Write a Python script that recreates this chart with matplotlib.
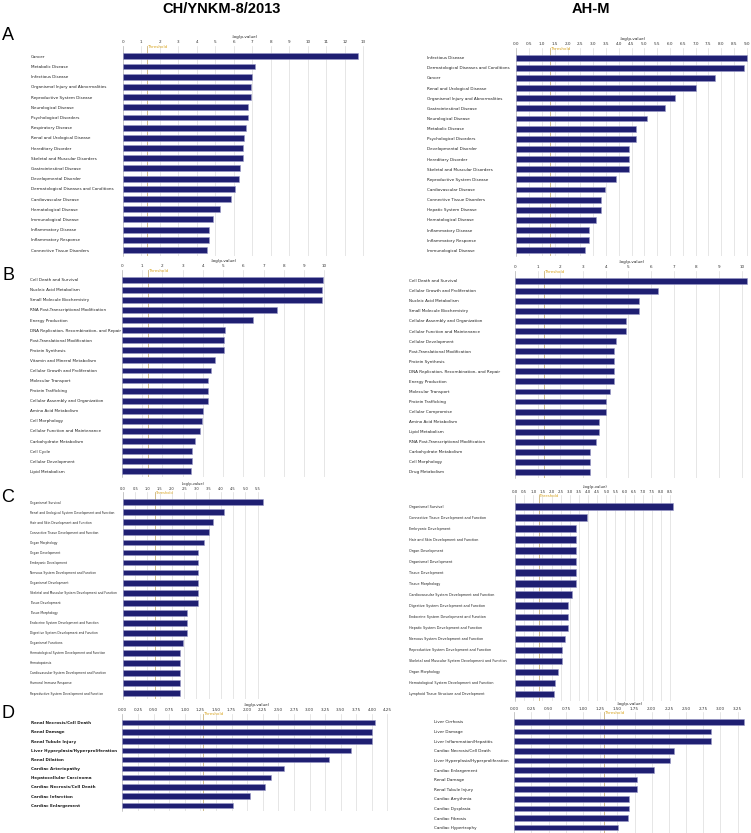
import matplotlib
matplotlib.use("Agg")
import matplotlib.pyplot as plt
import numpy as np

W, H = 751, 833

# ---------------- data ----------------
a_left_labels = ["Cancer", "Metabolic Disease", "Infectious Disease", "Organismal Injury and Abnormalities",
                 "Reproductive System Disease", "Neurological Disease", "Psychological Disorders",
                 "Respiratory Disease", "Renal and Urological Disease", "Hereditary Disorder",
                 "Skeletal and Muscular Disorders", "Gastrointestinal Disease", "Developmental Disorder",
                 "Dermatological Diseases and Conditions", "Cardiovascular Disease", "Hematological Disease",
                 "Immunological Disease", "Inflammatory Disease", "Inflammatory Response",
                 "Connective Tissue Disorders"]
a_left_values = [12.70, 7.14, 6.97, 6.92, 6.92, 6.76, 6.76, 6.68, 6.58, 6.52, 6.52, 6.34, 6.27,
                 6.07, 5.87, 5.26, 4.86, 4.65, 4.65, 4.58]

a_right_labels = ["Infectious Disease", "Dermatological Diseases and Conditions", "Cancer",
                  "Renal and Urological Disease", "Organismal Injury and Abnormalities",
                  "Gastrointestinal Disease", "Neurological Disease", "Metabolic Disease",
                  "Psychological Disorders", "Developmental Disorder", "Hereditary Disorder",
                  "Skeletal and Muscular Disorders", "Reproductive System Disease", "Cardiovascular Disease",
                  "Connective Tissue Disorders", "Hepatic System Disease", "Hematological Disease",
                  "Inflammatory Disease", "Inflammatory Response", "Immunological Disease"]
a_right_values = [9.00, 8.89, 7.75, 7.03, 6.18, 5.79, 5.09, 4.67, 4.67, 4.39, 4.39, 4.39, 3.89,
                  3.46, 3.32, 3.32, 3.11, 2.84, 2.84, 2.70]

b_left_labels = ["Cell Death and Survival", "Nucleic Acid Metabolism", "Small Molecule Biochemistry",
                 "RNA Post-Transcriptional Modification", "Energy Production",
                 "DNA Replication, Recombination, and Repair", "Post-Translational Modification",
                 "Protein Synthesis", "Vitamin and Mineral Metabolism", "Cellular Growth and Proliferation",
                 "Molecular Transport", "Protein Trafficking", "Cellular Assembly and Organization",
                 "Amino Acid Metabolism", "Cell Morphology", "Cellular Function and Maintenance",
                 "Carbohydrate Metabolism", "Cell Cycle", "Cellular Development", "Lipid Metabolism"]
b_left_values = [9.92, 9.88, 9.88, 7.68, 6.46, 5.11, 5.02, 5.02, 4.61, 4.42, 4.27, 4.27, 4.25,
                 3.99, 3.97, 3.87, 3.59, 3.48, 3.48, 3.41]

b_right_labels = ["Cell Death and Survival", "Cellular Growth and Proliferation", "Nucleic Acid Metabolism",
                  "Small Molecule Biochemistry", "Cellular Assembly and Organization",
                  "Cellular Function and Maintenance", "Cellular Development", "Post-Translational Modification",
                  "Protein Synthesis", "DNA Replication, Recombination, and Repair", "Energy Production",
                  "Molecular Transport", "Protein Trafficking", "Cellular Compromise", "Amino Acid Metabolism",
                  "Lipid Metabolism", "RNA Post-Transcriptional Modification", "Carbohydrate Metabolism",
                  "Cell Morphology", "Drug Metabolism"]
b_right_values = [10.24, 6.29, 5.49, 5.49, 4.90, 4.90, 4.47, 4.35, 4.35, 4.35, 4.35, 4.19, 4.03,
                  4.00, 3.71, 3.71, 3.56, 3.32, 3.32, 3.32]

c_left_labels = ["Organismal Survival", "Renal and Urological System Development and Function",
                 "Hair and Skin Development and Function", "Connective Tissue Development and Function",
                 "Organ Morphology", "Organ Development", "Embryonic Development",
                 "Nervous System Development and Function", "Organismal Development",
                 "Skeletal and Muscular System Development and Function", "Tissue Development",
                 "Tissue Morphology", "Endocrine System Development and Function",
                 "Digestive System Development and Function", "Organismal Functions",
                 "Hematological System Development and Function", "Hematopoiesis",
                 "Cardiovascular System Development and Function", "Humoral Immune Response",
                 "Reproductive System Development and Function"]
c_left_values = [5.71, 4.14, 3.69, 3.50, 3.32, 3.08, 3.08, 3.08, 3.08, 3.08, 3.08, 2.60, 2.60,
                 2.60, 2.45, 2.32, 2.32, 2.32, 2.32, 2.32]

c_right_labels = ["Organismal Survival", "Connective Tissue Development and Function", "Embryonic Development",
                  "Hair and Skin Development and Function", "Organ Development", "Organismal Development",
                  "Tissue Development", "Tissue Morphology", "Cardiovascular System Development and Function",
                  "Digestive System Development and Function", "Endocrine System Development and Function",
                  "Hepatic System Development and Function", "Nervous System Development and Function",
                  "Reproductive System Development and Function",
                  "Skeletal and Muscular System Development and Function", "Organ Morphology",
                  "Hematological System Development and Function", "Lymphoid Tissue Structure and Development"]
c_right_values = [8.67, 3.96, 3.34, 3.34, 3.34, 3.34, 3.34, 3.34, 3.14, 2.88, 2.88, 2.88, 2.76,
                  2.57, 2.57, 2.37, 2.19, 2.13]

d_left_labels = ["Renal Necrosis/Cell Death", "Renal Damage", "Renal Tubule Injury",
                 "Liver Hyperplasia/Hyperproliferation", "Renal Dilation", "Cardiac Arteriopathy",
                 "Hepatocellular Carcinoma", "Cardiac Necrosis/Cell Death", "Cardiac Infarction",
                 "Cardiac Enlargement"]
d_left_values = [4.05, 4.00, 4.00, 3.66, 3.32, 2.59, 2.39, 2.29, 2.05, 1.78]

d_right_labels = ["Liver Cirrhosis", "Liver Damage", "Liver Inflammation/Hepatitis",
                  "Cardiac Necrosis/Cell Death", "Liver Hyperplasia/Hyperproliferation", "Cardiac Enlargement",
                  "Renal Damage", "Renal Tubule Injury", "Cardiac Arrythmia", "Cardiac Dysplasia",
                  "Cardiac Fibrosis", "Cardiac Hypertrophy"]
d_right_values = [3.34, 2.87, 2.87, 2.32, 2.26, 2.04, 1.79, 1.79, 1.67, 1.67, 1.66, 1.51]

threshold = 1.3
col_titles = ["CH/YNKM-8/2013", "AH-M"]
panel_letters = ["A", "B", "C", "D"]

# ---------------- style ----------------
BAR = "#1f1f72"
EDGE = "#9a9ac8"
GRID = "#dcdcdc"
THR = "#c9b27a"
THR_TXT = "#d9a520"

fig = plt.figure(figsize=(W / 100, H / 100), dpi=100)


def panel(labels, values, x0, scale, xmax, first, last, tick_step, fmt, label_x,
          label_fs, bold=False, tick_fs=3.0):
    n = len(labels)
    sp = (last - first) / (n - 1)
    top = first - 1.0 * sp
    bot = last + 0.6 * sp
    right = x0 + xmax * scale
    ax = fig.add_axes([x0 / W, 1 - bot / H, (right - x0) / W, (bot - top) / H])
    y = np.arange(n)
    ax.barh(y, values, height=0.58, color=BAR, edgecolor=EDGE, linewidth=0.4, zorder=3)
    ax.set_xlim(0, xmax)
    ax.set_ylim(n - 1 + 0.6, -1.0)
    ticks = np.arange(0, xmax + 1e-9, tick_step)
    ax.set_xticks(ticks)
    ax.set_xticklabels([fmt.format(t) for t in ticks], fontsize=tick_fs, color="#333333")
    ax.xaxis.tick_top()
    ax.xaxis.set_label_position("top")
    ax.tick_params(axis="x", length=0, pad=1.2)
    ax.set_xlabel("-log(p-value)", fontsize=tick_fs, labelpad=1.5, color="#222222")
    ax.grid(axis="x", color=GRID, linewidth=0.5, zorder=0)
    ax.set_yticks(y)
    pad = (x0 - label_x) * 0.72
    ax.set_yticklabels(labels, ha="left", fontsize=label_fs, color="#222222",
                       fontweight="bold" if bold else "normal")
    ax.tick_params(axis="y", length=0, pad=pad)
    for s in ["top", "right", "bottom"]:
        ax.spines[s].set_visible(False)
    ax.spines["left"].set_color("#bbbbbb")
    ax.spines["left"].set_linewidth(0.5)
    ax.axvline(threshold, color=THR, linewidth=0.6, zorder=2)
    ax.text(threshold, -0.9, "Threshold", fontsize=tick_fs, color=THR_TXT,
            ha="left", va="center", zorder=4)
    return ax


panel(a_left_labels, a_left_values, 122.7, 18.51, 13.2, 56.3, 250.0, 1, "{:.0f}", 31, 3.0)
panel(a_right_labels, a_right_values, 516.3, 25.6, 9.1, 57.7, 250.3, 0.5, "{:.1f}", 426.7, 3.0)
panel(b_left_labels, b_left_values, 122.0, 20.23, 10.1, 279.7, 471.3, 1, "{:.0f}", 30, 2.95)
panel(b_right_labels, b_right_values, 515.0, 22.67, 10.3, 280.7, 472.0, 1, "{:.0f}", 409.3, 3.0)
panel(c_left_labels, c_left_values, 123.0, 24.47, 5.75, 502.3, 693.0, 0.5, "{:.1f}", 30, 2.2, tick_fs=2.6)
panel(c_right_labels, c_right_values, 515.0, 18.27, 8.8, 506.3, 694.0, 0.5, "{:.1f}", 408.7, 2.4, tick_fs=2.8)
panel(d_left_labels, d_left_values, 122.3, 62.4, 4.3, 722.7, 805.3, 0.25, "{:.2f}", 31, 3.0, bold=True)
panel(d_right_labels, d_right_values, 514.3, 68.7, 3.38, 722.0, 827.7, 0.25, "{:.2f}", 433.7, 2.95)

title_font = ["Liberation Sans Narrow", "Liberation Sans", "DejaVu Sans"]
fig.text(222 / W, 1 - 9 / H, col_titles[0], ha="center", va="center", fontsize=10.5,
         fontweight="bold", family=title_font)
fig.text(591 / W, 1 - 9 / H, col_titles[1], ha="center", va="center", fontsize=10.5,
         fontweight="bold", family=title_font)

for letter, yp in zip(panel_letters, [36, 275, 498, 713]):
    fig.text(8 / W, 1 - yp / H, letter, ha="center", va="center", fontsize=13,
             family=["Liberation Sans", "DejaVu Sans"])

fig.savefig("out.png", dpi=100, facecolor="white")
